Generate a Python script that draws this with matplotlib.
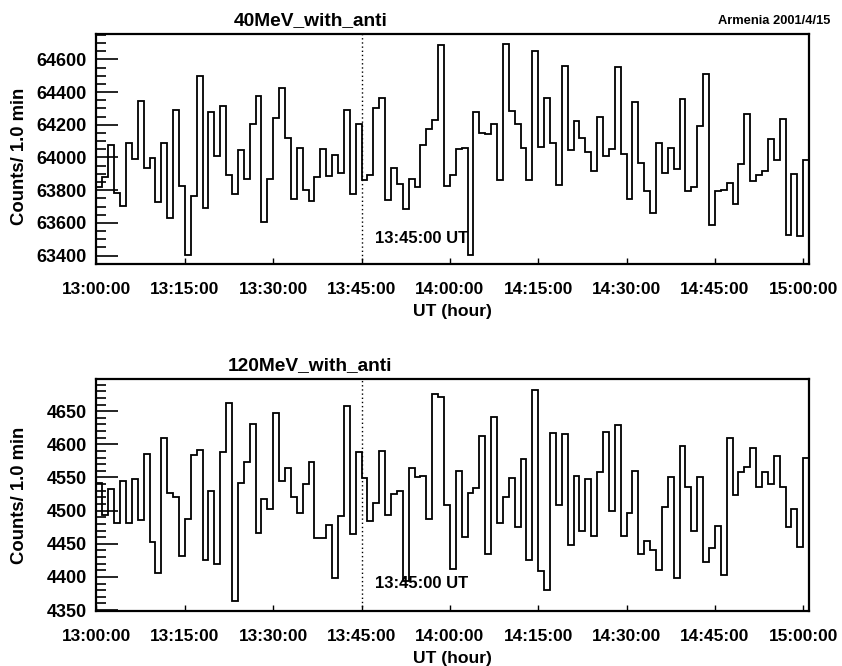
import matplotlib.pyplot as plt
import numpy as np
from matplotlib.ticker import MultipleLocator

plt.rcParams['font.family'] = ['Liberation Sans', 'DejaVu Sans']
plt.rcParams['font.weight'] = 'bold'

# DATA : counts per 1 minute bin, 13:00 -> 15:01 UT
top_counts = [63820, 63882, 64075, 63780, 63702, 64086, 63990, 64347, 63933, 63994,
              63729, 64086, 63631, 64290, 63827, 63402, 63763, 64500, 63692, 64275,
              64010, 64314, 63892, 63778, 64045, 63871, 64202, 64377, 63606, 63871,
              64239, 64422, 64116, 63745, 64055, 63800, 63735, 63882, 64049, 63886,
              64014, 63902, 64290, 63776, 64204, 63861, 63892, 64304, 64361, 63739,
              63933, 63837, 63682, 63867, 63820, 64075, 64173, 64228, 64687, 63825,
              63892, 64051, 64059, 63406, 64275, 64151, 64145, 64206, 63865, 64694,
              64286, 64206, 64055, 63861, 64651, 64061, 64361, 64086, 63831, 64559,
              64045, 64222, 64122, 64031, 63916, 64247, 64008, 64049, 64555, 64020,
              63745, 64341, 63969, 63796, 63663, 64086, 63902, 64055, 63929, 64357,
              63792, 63820, 64192, 64510, 63586, 63796, 63804, 63843, 63714, 63957,
              64263, 63859, 63892, 63918, 64110, 63984, 64233, 63529, 63898, 63517,
              63984]
bottom_counts = [4542, 4493, 4532, 4481, 4545, 4481, 4547, 4486, 4586, 4452,
                 4406, 4610, 4527, 4520, 4431, 4487, 4584, 4591, 4425, 4530,
                 4420, 4588, 4662, 4364, 4542, 4573, 4631, 4466, 4518, 4503,
                 4648, 4544, 4564, 4521, 4496, 4540, 4574, 4459, 4459, 4479,
                 4398, 4492, 4658, 4465, 4588, 4549, 4485, 4511, 4590, 4494,
                 4525, 4529, 4394, 4565, 4550, 4552, 4487, 4676, 4672, 4509,
                 4412, 4560, 4460, 4527, 4534, 4613, 4435, 4641, 4482, 4521,
                 4549, 4475, 4578, 4425, 4682, 4409, 4381, 4617, 4509, 4616,
                 4448, 4552, 4470, 4547, 4461, 4558, 4618, 4500, 4629, 4461,
                 4496, 4560, 4435, 4454, 4440, 4410, 4506, 4550, 4398, 4597,
                 4535, 4470, 4551, 4422, 4444, 4477, 4403, 4609, 4524, 4559,
                 4566, 4594, 4535, 4559, 4540, 4583, 4536, 4475, 4503, 4445,
                 4580]
tick_minutes = [0, 15, 30, 45, 60, 75, 90, 105, 120]
tick_labels = ["13:00:00", "13:15:00", "13:30:00", "13:45:00", "14:00:00",
               "14:15:00", "14:30:00", "14:45:00", "15:00:00"]
marker_minute = 45  # 13:45:00 UT

edges = np.arange(len(top_counts) + 1)

fig = plt.figure(figsize=(8.42, 6.66), dpi=100)

def setup(ax, counts, ylim, major, minor, text_y, title, ylab_y):
    ax.stairs(counts, edges, color='black', linewidth=1.3)
    ax.set_xlim(0, len(counts))
    ax.set_ylim(*ylim)
    ax.set_xticks(tick_minutes)
    ax.set_xticklabels(tick_labels)
    ax.yaxis.set_major_locator(MultipleLocator(major))
    ax.yaxis.set_minor_locator(MultipleLocator(minor))
    ax.tick_params(axis='x', direction='in', length=4.5, width=1, pad=13, labelsize=12.4)
    ax.tick_params(axis='y', which='major', direction='in', length=16, width=1.2, pad=7, labelsize=13)
    ax.tick_params(axis='y', which='minor', direction='in', length=7.5, width=1.2)
    for s in ax.spines.values():
        s.set_linewidth(1.6)
    ax.axvline(marker_minute, color='black', linestyle=(0, (1, 2)), linewidth=1)
    ax.text(marker_minute + 2.3, text_y, "13:45:00 UT", fontsize=12, fontweight='bold',
            va='center', ha='left')
    ax.set_xlabel("UT (hour)", fontsize=12.6, fontweight='bold', labelpad=5)
    ax.set_ylabel("Counts/ 1.0 min", fontsize=13.3, fontweight='bold')
    ax.yaxis.set_label_coords(-0.096, ylab_y)
    ax.set_title(title, fontsize=13.8, fontweight='bold', x=0.30, pad=7)

ax1 = fig.add_axes([0.1146, 0.6032, 0.8464, 0.3453])
setup(ax1, top_counts, (63347, 64753), 200, 50, 63506, "40MeV_with_anti", 0.47)
fig.text(0.986, 0.968, "Armenia 2001/4/15", fontsize=9.3, fontweight='bold', ha='right', va='center')

ax2 = fig.add_axes([0.1146, 0.0830, 0.8464, 0.3474])
setup(ax2, bottom_counts, (4349, 4698), 50, 10, 4390, "120MeV_with_anti", 0.5)

fig.savefig("out.png", dpi=100)
